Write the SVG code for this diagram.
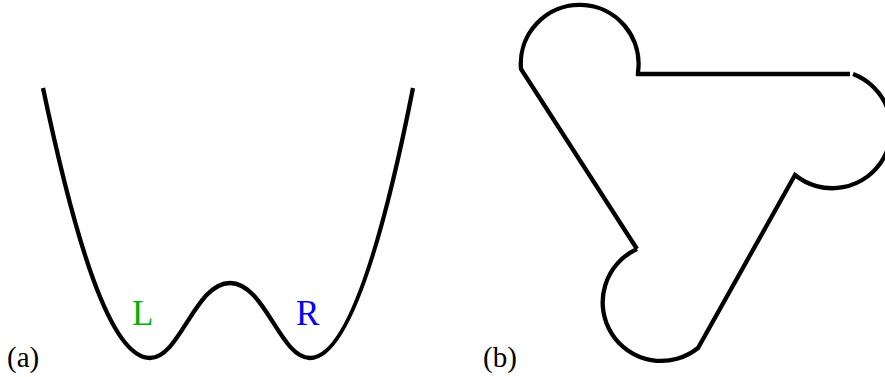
<svg xmlns="http://www.w3.org/2000/svg" width="885" height="377" viewBox="0 0 885 377">
<style>
.ln{fill:none;stroke:#000;stroke-width:4.3;stroke-linejoin:miter}
.lbl{font-family:"Liberation Serif","Times New Roman",serif;font-size:29px;fill:#000}
.big{font-family:"Liberation Serif","Times New Roman",serif;font-size:35px}
</style>
<rect width="885" height="377" fill="#fff"/>
<g id="panel-a">
<path class="ln" d="M43 88 C75 240 110 358 150 358 C180 358 195 283 230 283 C265 283 280 358 310 358 C348 358 383 240 413 88"/>
<text class="big" x="132" y="325" fill="#00b000">L</text>
<text class="big" x="296" y="325" fill="#0000ff">R</text>
<text class="lbl" x="7" y="367">(a)</text>
</g>
<g id="panel-b">
<path class="ln" d="M637 249 L521 69 A58.9 58.9 0 1 1 638 72 L638 74 L850 74"/>
<path class="ln" d="M853 74 A59 59 0 1 1 795 175 L698 348 A58.6 58.6 0 1 1 637 249"/>
<text class="lbl" x="483" y="367">(b)</text>
</g>
</svg>
